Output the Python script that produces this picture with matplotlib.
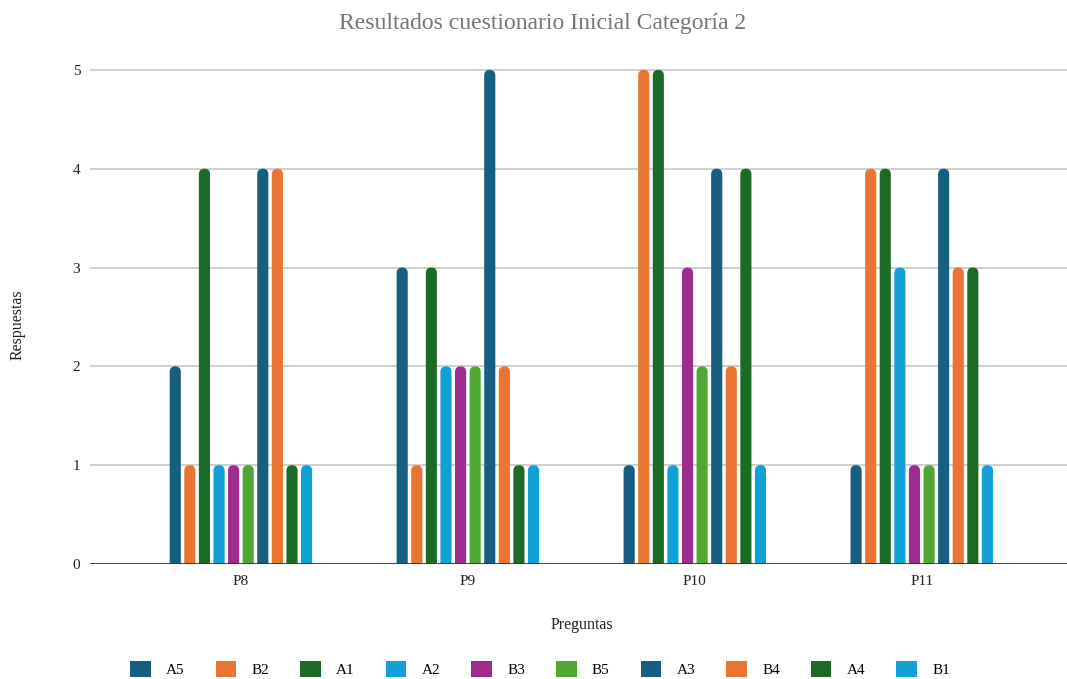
import matplotlib
matplotlib.use("Agg")
import matplotlib.pyplot as plt
from matplotlib.patches import FancyBboxPatch, Patch
import numpy as np

plt.rcParams['font.family'] = ['Liberation Serif', 'DejaVu Serif']

preguntas = ["P8", "P9", "P10", "P11"]
series = ["A5", "B2", "A1", "A2", "B3", "B5", "A3", "B4", "A4", "B1"]
valores = {
    "A5": [2, 3, 1, 1],
    "B2": [1, 1, 5, 4],
    "A1": [4, 3, 5, 4],
    "A2": [1, 2, 1, 3],
    "B3": [1, 2, 3, 1],
    "B5": [1, 2, 2, 1],
    "A3": [4, 5, 4, 4],
    "B4": [4, 2, 2, 3],
    "A4": [1, 1, 4, 3],
    "B1": [1, 1, 1, 1],
}
colores = ["#175f80", "#e97530", "#1b6b27", "#12a0d8", "#9e2c8f",
           "#4fa831", "#175f80", "#e97530", "#1b6b27", "#12a0d8"]

W, H = 1067, 679
fig = plt.figure(figsize=(W / 100, H / 100), dpi=100)
ax = fig.add_axes([90 / W, 1 - 564 / H, 1 - 90 / W, (564 - 60) / H])

ymax = 5.1
xmin, xmax = -0.665, 3.64
ax.set_xlim(xmin, xmax)
ax.set_ylim(0, ymax)

step = 0.0643
bw = 0.049
n = len(series)
x = np.arange(len(preguntas))

# aspect between data units per pixel in y and in x, so the caps stay round
ax_w_px = W * (1 - 90 / W)
ax_h_px = (564 - 60)
aspect = (ymax / ax_h_px) / ((xmax - xmin) / ax_w_px)
r = bw / 2

for i, (name, col) in enumerate(zip(series, colores)):
    offs = (i - (n - 1) / 2) * step
    for xi, v in zip(x, valores[name]):
        left = xi + offs - bw / 2
        bottom = -0.3  # start below the baseline so the bottom corners are clipped flat
        p = FancyBboxPatch((left, bottom), bw, v - bottom,
                           boxstyle=f"round,pad=0,rounding_size={r}",
                           mutation_aspect=aspect,
                           facecolor=col, edgecolor="none", zorder=3)
        ax.add_patch(p)

for yv in range(0, 6):
    ax.axhline(yv, color="#cccccc" if yv else "#333333",
               lw=1.3, zorder=1 if yv else 4)

for s in ax.spines.values():
    s.set_visible(False)
ax.set_yticks(range(0, 6))
ax.set_xticks(x)
ax.set_xticklabels(preguntas)
ax.tick_params(axis="both", length=0, labelsize=11, colors="#222222")
ax.tick_params(axis="x", pad=8)
ax.tick_params(axis="y", pad=7)

fig.text(543 / W, 1 - 23 / H, "Resultados cuestionario Inicial Categoría 2",
         ha="center", va="center", fontsize=17, color="#757575")
fig.text(18 / W, 1 - 325 / H, "Respuestas", rotation=90,
         ha="center", va="center", fontsize=11.5, color="#222222")
fig.text(582 / W, 1 - 625 / H, "Preguntas",
         ha="center", va="center", fontsize=11.5, color="#222222")

handles = [Patch(facecolor=c, edgecolor="none") for c in colores]
fig.legend(handles, series, loc="center", bbox_to_anchor=(540 / W, 1 - 669 / H),
           ncol=n, frameon=False, fontsize=11, handlelength=1.35, handleheight=1.2,
           handletextpad=1.0, columnspacing=2.03)

fig.savefig("out.png", dpi=100)
